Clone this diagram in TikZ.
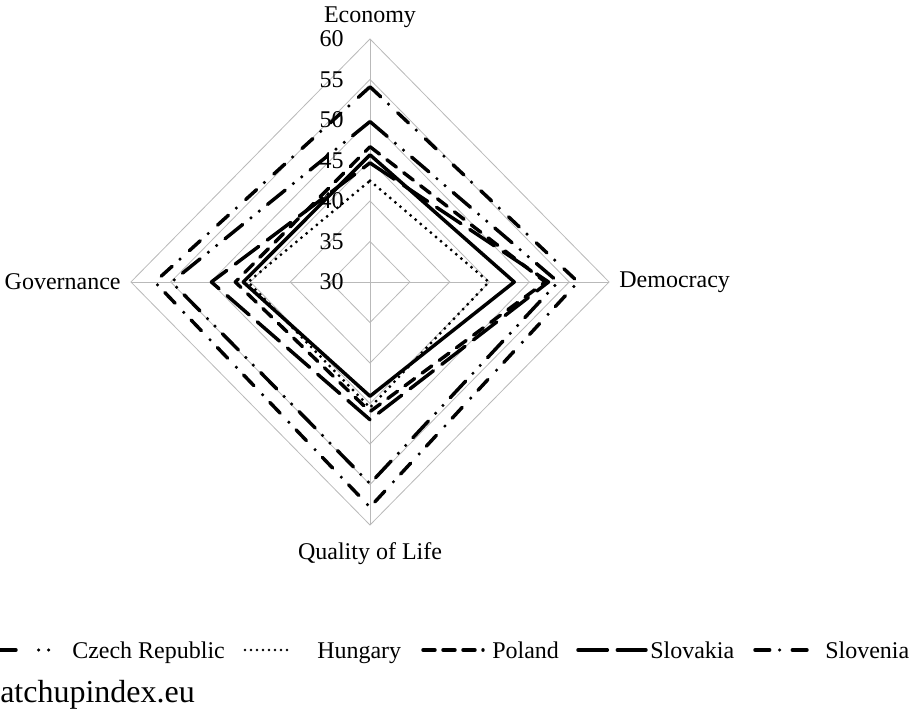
\documentclass[tikz,border=0pt]{standalone}
\usepackage{fontspec}
\setmainfont{Liberation Serif}

\tikzset{
  gridline/.style={draw=gray!55, line width=0.6pt},
  ticklabel/.style={anchor=east, inner sep=0pt, font=\fontsize{18}{20}\selectfont},
  axislabel/.style={inner sep=0pt, font=\fontsize{18}{20}\selectfont},
  legendtext/.style={anchor=base west, inner sep=0pt, font=\fontsize{18}{20}\selectfont},
  dataline/.style={line width=2.6pt, line join=round, line cap=round},
  czech/.style={dataline, dash pattern=on 17pt off 8pt on 0pt off 8pt on 0pt off 8pt},
  hungary/.style={dataline, line width=2.4pt, dash pattern=on 0pt off 5pt},
  poland/.style={dataline, dash pattern=on 9pt off 7pt},
  slovakia/.style={dataline, dash pattern=on 22pt off 8pt},
  slovenia/.style={dataline, dash pattern=on 11pt off 8pt on 0pt off 9.5pt},
  plainline/.style={dataline},
}

% style, Economy, Democracy, Quality of Life, Governance
\newcommand{\radarline}[5]{%
  \draw[#1] (0,{(#2-30)*\sy}) -- ({(#3-30)*\sx},0) -- (0,{-(#4-30)*\sy})
    -- ({-(#5-30)*\sx},0) -- cycle;}

\begin{document}
\begin{tikzpicture}[x=0.75pt, y=0.75pt]
  \def\sx{7.97}
  \def\sy{8.1}
  \useasboundingbox (-370,-431) rectangle (541,282);

  % Draw rings and spokes
  \foreach \v in {35,40,...,60}
    \draw[gridline] (0,{(\v-30)*\sy}) -- ({(\v-30)*\sx},0) -- (0,{-(\v-30)*\sy})
      -- ({-(\v-30)*\sx},0) -- cycle;
  \draw[gridline] (0,{-30*\sy}) -- (0,{30*\sy});
  \draw[gridline] ({-30*\sx},0) -- ({30*\sx},0);
  \foreach \v in {30,35,...,60}
    \node[ticklabel] at (-26,{(\v-30)*\sy}) {\v};

  % Axis labels
  \node[axislabel, anchor=base] (economy) at (0,259) {Economy};
  \node[axislabel, anchor=west] (democracy) at ({30*\sx+10},0) {Democracy};
  \node[axislabel, anchor=east] (governance) at ({-30*\sx-10},0) {Governance};
  \node[axislabel, anchor=base] (quality) at (0,-278) {Quality of Life};

  % Data
  \radarline{hungary}{42.5}{44.9}{45.5}{45.3}
  \radarline{plainline}{45.7}{48.1}{44.1}{45.9}
  \radarline{poland}{46.7}{52.0}{46.0}{46.9}
  \radarline{slovakia}{44.7}{52.4}{47.0}{49.9}
  \radarline{czech}{49.8}{53.6}{54.9}{54.9}
  \radarline{slovenia}{54.1}{56.1}{57.8}{57.0}

  % Legend
  \draw[czech, dash pattern=on 12pt off 17pt on 0pt off 7.5pt on 0pt off 20pt] (-370,-368) -- (-320,-368);
  \node[legendtext] (lczech) at (-298,-377) {Czech Republic};
  \draw[hungary, line width=2pt, dash pattern=on 0pt off 4.5pt] (-125,-368) -- (-77,-368);
  \node[legendtext] (lhungary) at (-53,-377) {Hungary};
  \draw[poland, dash pattern=on 9pt off 6pt] (53,-368) -- (113,-368);
  \node[legendtext] (lpoland) at (122,-377) {Poland};
  \draw[slovakia, dash pattern=on 22pt off 7.5pt] (208,-368) -- (276,-368);
  \node[legendtext] (lslovakia) at (280,-377) {Slovakia};
  \draw[slovenia, dash pattern=on 11pt off 7.5pt on 0pt off 9.5pt] (385,-368) -- (437,-368);
  \node[legendtext] (lslovenia) at (455,-377) {Slovenia};

  \node[anchor=base west, inner sep=0pt, font=\fontsize{24}{28}\selectfont] (source) at (-370,-421) {atchupindex.eu};
\end{tikzpicture}
\end{document}
